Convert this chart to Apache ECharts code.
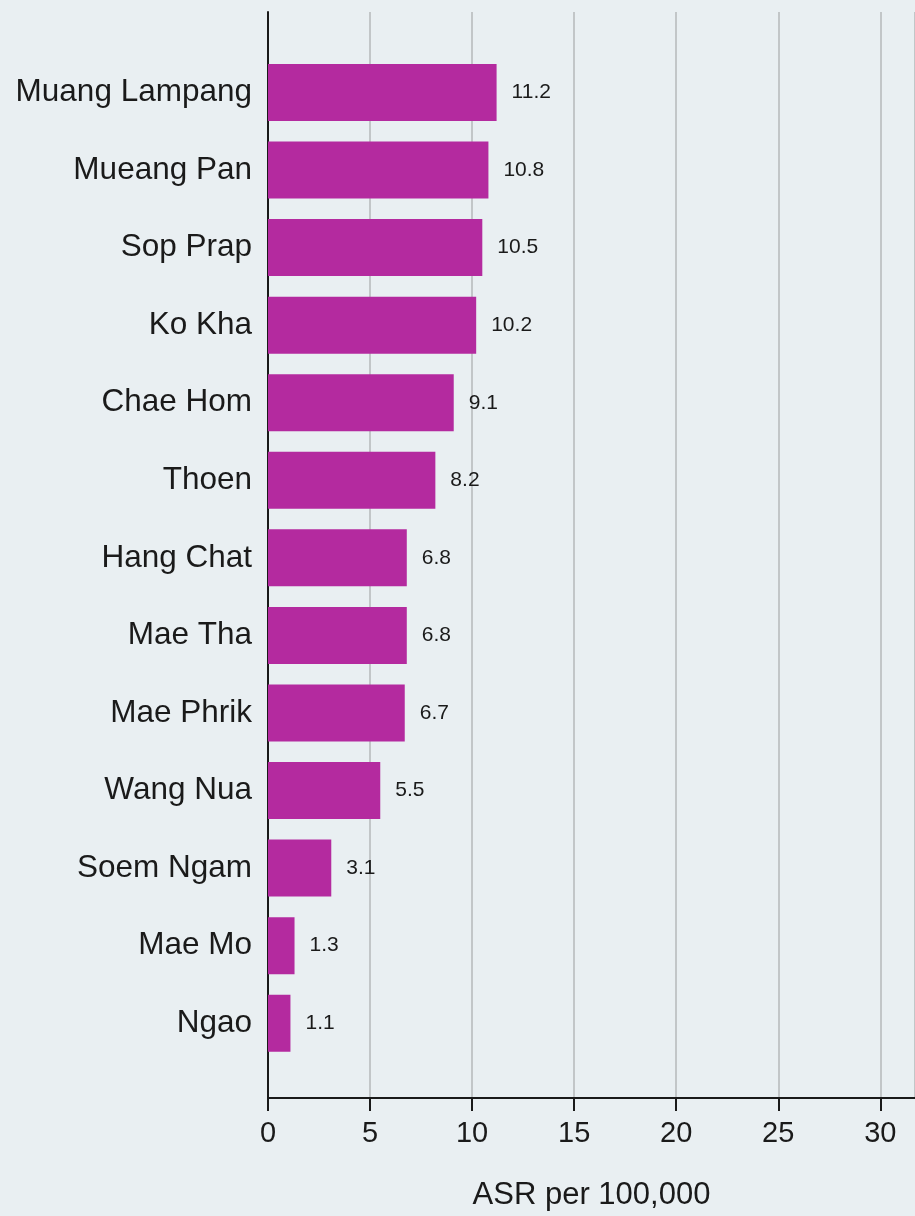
<!DOCTYPE html>
<html>
<head>
<meta charset="utf-8">
<script src="https://cdn.jsdelivr.net/npm/echarts@6/dist/echarts.min.js"></script>
<style>
html,body{margin:0;padding:0;background:#e9eff2;}
#chart{width:915px;height:1216px;}
</style>
</head>
<body>
<div id="chart"></div>
<script>
const categories = ["Muang Lampang","Mueang Pan","Sop Prap","Ko Kha","Chae Hom","Thoen","Hang Chat","Mae Tha","Mae Phrik","Wang Nua","Soem Ngam","Mae Mo","Ngao"];
const values = [11.2,10.8,10.5,10.2,9.1,8.2,6.8,6.8,6.7,5.5,3.1,1.3,1.1];
const xTicks = [0,5,10,15,20,25,30];
const axisTitle = "ASR per 100,000";

const chart = echarts.init(document.getElementById('chart'), null, {renderer:'canvas'});
const FONT = '"Liberation Sans", Arial, sans-serif';
const XMAX = 31.7;
chart.setOption({
  backgroundColor: '#e9eff2',
  animation: false,
  grid: [
    {left: 268, right: 0, top: 12, bottom: 115},
    {left: 268, right: 0, top: 53.7, bottom: 154}
  ],
  xAxis: [
    {
      gridIndex: 0, type: 'value', min: 0, max: XMAX, interval: 5,
      axisLine: {show: true, lineStyle: {color: '#1a1a1a', width: 2}},
      axisTick: {show: true, length: 13, lineStyle: {color: '#1a1a1a', width: 2}},
      axisLabel: {
        margin: 21, fontSize: 29, color: '#1a1a1a', fontFamily: FONT,
        showMaxLabel: false,
        formatter: v => xTicks.indexOf(v) >= 0 ? String(v) : ''
      },
      splitLine: {show: true, lineStyle: {color: '#c2c6c8', width: 2}},
      name: axisTitle, nameLocation: 'middle', nameGap: 82,
      nameTextStyle: {fontSize: 31, color: '#1a1a1a', fontFamily: FONT}
    },
    {
      gridIndex: 1, type: 'value', min: 0, max: XMAX, show: false
    }
  ],
  yAxis: [
    {
      gridIndex: 0, type: 'value', min: 0, max: 1,
      axisLine: {show: true, lineStyle: {color: '#1a1a1a', width: 2}},
      axisTick: {show: false}, axisLabel: {show: false}, splitLine: {show: false}
    },
    {
      gridIndex: 1, type: 'category', inverse: true, data: categories,
      axisLine: {show: false}, axisTick: {show: false}, splitLine: {show: false},
      axisLabel: {margin: 16, fontSize: 31.5, color: '#1a1a1a', fontFamily: FONT}
    }
  ],
  series: [{
    type: 'bar', xAxisIndex: 1, yAxisIndex: 1,
    data: values,
    barCategoryGap: '26.5%',
    itemStyle: {color: '#b42a9f'},
    label: {
      show: true, position: 'right', distance: 15,
      fontSize: 21, color: '#1a1a1a', fontFamily: FONT,
      formatter: p => p.value.toFixed(1)
    }
  }]
});
</script>
</body>
</html>
